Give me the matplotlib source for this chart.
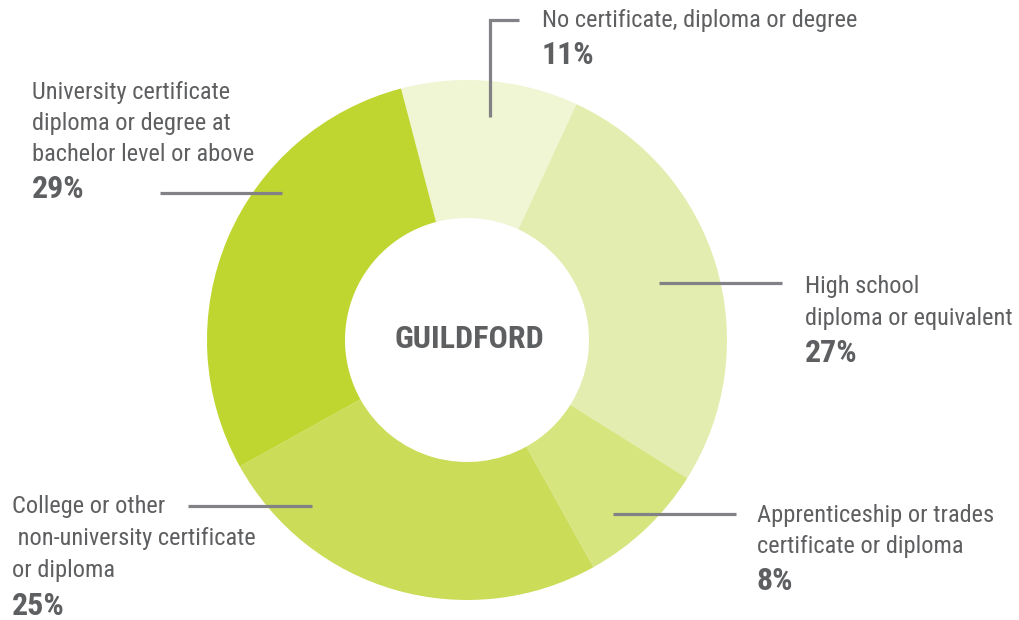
import matplotlib
matplotlib.use("Agg")
import matplotlib.pyplot as plt

# Data
categories = [
    "No certificate, diploma or degree",
    "High school diploma or equivalent",
    "Apprenticeship or trades certificate or diploma",
    "College or other non-university certificate or diploma",
    "University certificate diploma or degree at bachelor level or above",
]
values = [11, 27, 8, 25, 29]
colors = ["#f0f5d4", "#e3edaf", "#d7e57f", "#cadc58", "#bfd630"]
label_lines = [
    ["No certificate, diploma or degree"],
    ["High school", "diploma or equivalent"],
    ["Apprenticeship or trades", "certificate or diploma"],
    ["College or other", " non-university certificate", "or diploma"],
    ["University certificate", "diploma or degree at", "bachelor level or above"],
]
center_title = "GUILDFORD"

W, H = 1019, 620
FONT = ["Liberation Sans Narrow", "Roboto Condensed", "DejaVu Sans"]
TXT = "#5e5f61"
LINE = "#808285"

fig = plt.figure(figsize=(W / 100, H / 100), dpi=100)
ax = fig.add_axes([0, 0, 1, 1])
ax.set_xlim(0, W)
ax.set_ylim(0, H)
ax.set_aspect("equal")
ax.axis("off")

def Y(py):
    return H - py

cx, cy, R, r_in = 467, 340, 260, 122
ax.pie(values, colors=colors, startangle=104.7, counterclock=False,
       center=(cx, Y(cy)), radius=R, frame=True,
       wedgeprops=dict(width=R - r_in, linewidth=0))
ax.set_xlim(0, W)
ax.set_ylim(0, H)
ax.axis("off")

ax.text(cx + 2, Y(339), center_title, ha="center", va="center",
        fontsize=23, fontweight="bold", color=TXT, family=FONT)

# leader lines (pixel coords)
leaders = [
    [(490, 117), (490, 20), (519, 20)],
    [(659, 283), (782, 283)],
    [(613, 514), (736, 514)],
    [(188, 506), (312, 506)],
    [(160, 193), (282, 193)],
]
for pts in leaders:
    xs = [p[0] for p in pts]
    ys = [Y(p[1]) for p in pts]
    ax.plot(xs, ys, color=LINE, lw=2.3, solid_capstyle="butt",
            solid_joinstyle="miter")

# label positions: x, baselines of lines, baseline of percent
label_pos = [
    (542, [27], 64),
    (805, [293, 325], 362),
    (757, [522, 553], 590),
    (12, [513, 545, 577], 615),
    (32, [99, 130, 161], 198),
]
for lines, val, (x, bls, pb) in zip(label_lines, values, label_pos):
    for ln, b in zip(lines, bls):
        ax.text(x, Y(b), ln, ha="left", va="baseline", fontsize=17.6,
                color=TXT, family=FONT)
    ax.text(x, Y(pb), f"{val}%", ha="left", va="baseline", fontsize=23,
            fontweight="bold", color=TXT, family=FONT)

fig.savefig("out.png", dpi=100, facecolor="white")
